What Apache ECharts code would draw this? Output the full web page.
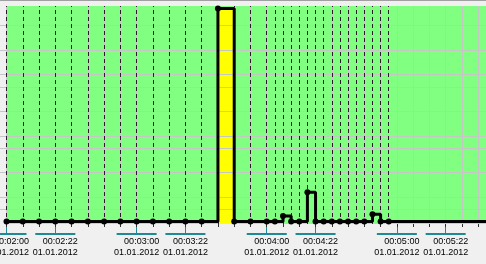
<!DOCTYPE html>
<html>
<head>
<meta charset="utf-8">
<script src="https://cdn.jsdelivr.net/npm/echarts@6/dist/echarts.min.js"></script>
<style>
html,body{margin:0;padding:0;background:#f0f0f0;overflow:hidden}
#c{width:486px;height:264px}
</style>
</head>
<body>
<div id="c"></div>
<script>
// ---- data (time in seconds since 00:00:00, value in chart units) ----
const times = [120,127.5,135,142.5,150,157.5,165,172.5,180,187.5,195,202.5,210,217.5,225,232.5,240,243.75,247.5,251.25,255,258.75,262.5,266.25,270,273.75,277.5,281.25,285,288.75,292.5,296.25];
const values = [0,0,0,0,0,0,0,0,0,0,0,0,0,17.4,0,0,0,0,0.45,0,0,2.4,0,0,0,0,0,0,0,0.6,0,0];
const highlightIndex = 13;               // the yellow-filled step
const labelTimes = [120,142.5,180,202.5,240,262.5,300,322.5];
const labelTexts = ['00:02:00','00:02:22','00:03:00','00:03:22','00:04:00','00:04:22','00:05:00','00:05:22'];
const dateText = '01.01.2012';
const hGrid = [1,2,4,6,7,9,11,12,14,16];
const gridStep = 7.5;

// ---- axis ranges ----
const X_MIN = 117.0, X_MAX = 341.1;
const Y_MIN = -0.2, Y_MAX = 17.6;
const TEAL = '#1f8a96';
const FONT = 'Liberation Sans';

const vGrid = [];
for (let t = times[0]; t <= X_MAX; t += gridStep) vGrid.push(t);

const mainData = times.map((t, i) => [t, values[i]]);
const hiData = [[times[highlightIndex], values[highlightIndex]], [times[highlightIndex + 1], values[highlightIndex]]];
const last = times.length - 1;
const tailData = [[times[last], values[last]], [X_MAX, values[last]]];

const chart = echarts.init(document.getElementById('c'), null, {renderer: 'canvas'});
const hidden = {symbol: 'none', lineStyle: {opacity: 0}, data: [[times[0], 0]], silent: true};

chart.setOption({
  animation: false,
  backgroundColor: '#f0f0f0',
  graphic: [{type: 'rect', left: 0, top: 0, shape: {width: 486, height: 1}, style: {fill: '#a0a0a0'}}],
  grid: {left: 0, top: 6, width: 486, bottom: 40, show: false, containLabel: false, outerBoundsMode: 'none'},
  xAxis: [{
    type: 'value', min: X_MIN, max: X_MAX, position: 'bottom',
    axisLine: {show: false, onZero: false},
    splitLine: {show: false},
    axisTick: {show: true, customValues: labelTimes, length: 10, lineStyle: {color: TEAL, width: 1}},
    axisLabel: {
      show: true, customValues: labelTimes, margin: 9, align: 'center', verticalAlign: 'top',
      hideOverlap: false,
      formatter: function (v) {
        const i = labelTimes.indexOf(v);
        return '{bar| }\n{t|' + labelTexts[i] + '}\n{d|' + dateText + '}';
      },
      rich: {
        bar: {width: 40, height: 2, lineHeight: 2, backgroundColor: TEAL},
        t: {fontSize: 9, fontFamily: FONT, color: '#000', lineHeight: 12.5, align: 'right'},
        d: {fontSize: 9, fontFamily: FONT, color: '#000', lineHeight: 10, align: 'right'}
      }
    }
  }, {
    type: 'value', min: X_MIN, max: X_MAX, position: 'bottom',
    axisLine: {show: false, onZero: false},
    splitLine: {show: false},
    axisTick: {show: true, customValues: vGrid, length: 3, lineStyle: {color: '#303030', width: 1}},
    axisLabel: {show: false}
  }],
  yAxis: {
    type: 'value', min: Y_MIN, max: Y_MAX,
    axisLine: {show: false}, axisTick: {show: false}, axisLabel: {show: false}, splitLine: {show: false}
  },
  series: [
    Object.assign({type: 'line', z: 1, markArea: {
      silent: true, itemStyle: {color: '#80ff80'},
      data: [[{xAxis: times[0]}, {xAxis: X_MAX}]]
    }}, hidden),
    {
      type: 'line', z: 2, step: 'end', symbol: 'none', silent: true,
      data: hiData, lineStyle: {width: 0, opacity: 0},
      areaStyle: {color: '#ffff00', opacity: 1, origin: 'start'}
    },
    Object.assign({type: 'line', z: 3, markLine: {
      silent: true, symbol: ['none', 'none'], label: {show: false},
      lineStyle: {color: '#c6c6c6', width: 1, type: 'solid'},
      data: hGrid.map(v => ({yAxis: v})).concat(vGrid.map(v => ({xAxis: v})))
    }}, hidden),
    Object.assign({type: 'line', z: 4, markLine: {
      silent: true, symbol: ['none', 'none'], label: {show: false},
      lineStyle: {color: '#2a1a2a', width: 1, type: [4, 3]},
      data: times.map(t => ({xAxis: t}))
    }}, hidden),
    {
      type: 'line', z: 5, step: 'end', silent: true, data: mainData,
      symbol: 'circle', symbolSize: 6, showSymbol: true, showAllSymbol: true,
      itemStyle: {color: '#000'}, lineStyle: {color: '#000', width: 3}
    },
    {
      type: 'line', z: 5, silent: true, data: tailData, symbol: 'none',
      lineStyle: {color: '#000', width: 3}
    }
  ]
});
</script>
</body>
</html>
